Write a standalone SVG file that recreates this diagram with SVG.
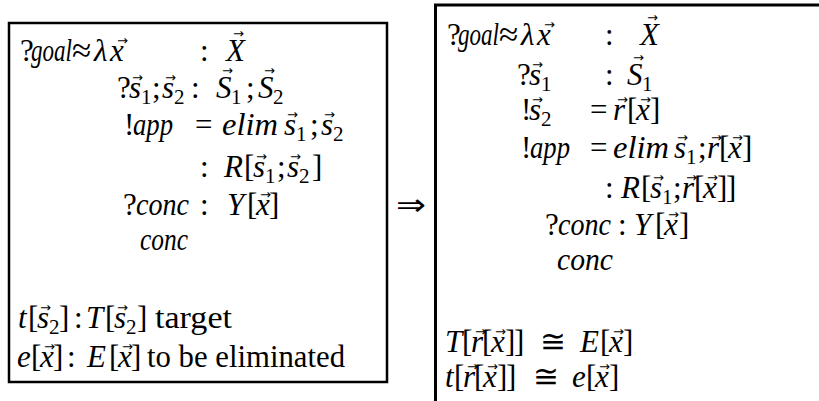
<svg xmlns="http://www.w3.org/2000/svg" width="819" height="401" viewBox="0 0 819 401">
<style>
text{font-family:"Liberation Serif","Times New Roman",serif;font-size:31px;fill:#000}
.i{font-style:italic}
.s{font-size:21px}
.q{font-size:35px}
.v{font-family:"DejaVu Sans",sans-serif;font-size:13px}
.box{fill:none;stroke:#000}
</style>
<rect width="819" height="401" fill="#fff"/>
<g id="left-box">
<rect class="box" x="9" y="23" width="378" height="359" stroke-width="2.5"/>
<text x="20" y="61">?</text><text class="i" x="31" y="61" textLength="41" lengthAdjust="spacingAndGlyphs">goal</text><text class="q" x="72" y="62">≈</text><text class="i" x="94" y="61">λ</text><text class="i" x="110" y="61">x</text><text class="v" x="117" y="45">→</text>
<text x="200" y="61">:</text><text class="i" x="226" y="61">X</text><text class="v" x="233" y="38">→</text>

<text x="117" y="98">?</text><text class="i" x="129" y="98">s</text><text class="v" x="132" y="82">→</text><text class="s" x="141" y="104">1</text><text x="152" y="98">;</text><text class="i" x="162" y="98">s</text><text class="v" x="165" y="82">→</text><text class="s" x="174" y="104">2</text>
<text x="191" y="98">:</text><text class="i" x="216" y="98">S</text><text class="v" x="222" y="75">→</text><text class="s" x="231" y="104">1</text><text x="246" y="98">;</text><text class="i" x="258" y="98">S</text><text class="v" x="264" y="75">→</text><text class="s" x="273" y="104">2</text>

<text x="124" y="135">!</text><text class="i" x="133" y="135" textLength="40" lengthAdjust="spacingAndGlyphs">app</text><text x="195" y="135">=</text><text class="i" x="222" y="135" textLength="56" lengthAdjust="spacingAndGlyphs">elim</text>
<text class="i" x="284" y="135">s</text><text class="v" x="287" y="119">→</text><text class="s" x="296" y="141">1</text><text x="310" y="135">;</text><text class="i" x="321" y="135">s</text><text class="v" x="324" y="119">→</text><text class="s" x="333" y="141">2</text>

<text x="200" y="177">:</text><text class="i" x="224" y="177">R</text><text x="244" y="177">[</text><text class="i" x="253" y="177">s</text><text class="v" x="256" y="161">→</text><text class="s" x="265" y="183">1</text><text x="277" y="177">;</text><text class="i" x="287" y="177">s</text><text class="v" x="290" y="161">→</text><text class="s" x="299" y="183">2</text><text x="312" y="177">]</text>

<text x="123" y="215">?</text><text class="i" x="136" y="215" textLength="53" lengthAdjust="spacingAndGlyphs">conc</text><text x="200" y="215">:</text><text class="i" x="227" y="215">Y</text><text x="247" y="215">[</text><text class="i" x="256" y="215">x</text><text class="v" x="260" y="199">→</text><text x="269" y="215">]</text>

<text class="i" x="140" y="250" textLength="48" lengthAdjust="spacingAndGlyphs">conc</text>

<text class="i" x="18" y="328">t</text><text x="28" y="328">[</text><text class="i" x="37" y="328">s</text><text class="v" x="40" y="312">→</text><text class="s" x="49" y="334">2</text><text x="59" y="328">]</text><text x="74" y="328">:</text><text class="i" x="86" y="328">T</text><text x="105" y="328">[</text><text class="i" x="114" y="328">s</text><text class="v" x="117" y="312">→</text><text class="s" x="126" y="334">2</text><text x="137" y="328">]</text><text x="155" y="328" textLength="77" lengthAdjust="spacingAndGlyphs">target</text>

<text class="i" x="17" y="367">e</text><text x="31" y="367">[</text><text class="i" x="40" y="367">x</text><text class="v" x="44" y="351">→</text><text x="53" y="367">]</text><text x="67" y="367">:</text><text class="i" x="87" y="367">E</text><text x="109" y="367">[</text><text class="i" x="118" y="367">x</text><text class="v" x="122" y="351">→</text><text x="131" y="367">]</text><text x="147" y="367" textLength="198" lengthAdjust="spacingAndGlyphs">to be eliminated</text>
</g>
<g id="connectors">
<text x="396" y="215" style="font-family:'DejaVu Sans',sans-serif;font-size:30px" textLength="30" lengthAdjust="spacingAndGlyphs">⇒</text>
</g>
<g id="right-box">
<path class="box" d="M435.5 401V5H819" stroke-width="3"/>
<text x="447" y="45">?</text><text class="i" x="458" y="45" textLength="41" lengthAdjust="spacingAndGlyphs">goal</text><text class="q" x="499" y="46">≈</text><text class="i" x="521" y="45">λ</text><text class="i" x="537" y="45">x</text><text class="v" x="544" y="29">→</text>
<text x="605" y="45">:</text><text class="i" x="640" y="45">X</text><text class="v" x="647" y="22">→</text>

<text x="517" y="85">?</text><text class="i" x="529" y="85">s</text><text class="v" x="532" y="69">→</text><text class="s" x="541" y="91">1</text><text x="605" y="85">:</text><text class="i" x="627" y="85">S</text><text class="v" x="633" y="62">→</text><text class="s" x="642" y="91">1</text>

<text x="521" y="120">!</text><text class="i" x="529" y="120">s</text><text class="v" x="532" y="104">→</text><text class="s" x="541" y="126">2</text><text x="590" y="120">=</text><text class="i" x="613" y="120">r</text><text class="v" x="617" y="104">→</text><text x="627" y="120">[</text><text class="i" x="636" y="120">x</text><text class="v" x="640" y="104">→</text><text x="650" y="120">]</text>

<text x="521" y="158">!</text><text class="i" x="530" y="158" textLength="40" lengthAdjust="spacingAndGlyphs">app</text><text x="590" y="158">=</text><text class="i" x="613" y="158" textLength="56" lengthAdjust="spacingAndGlyphs">elim</text><text class="i" x="674" y="158">s</text><text class="v" x="677" y="142">→</text><text class="s" x="686" y="164">1</text><text x="698" y="158">;</text><text class="i" x="707" y="158">r</text><text class="v" x="711" y="142">→</text><text x="719" y="158">[</text><text class="i" x="728" y="158">x</text><text class="v" x="732" y="142">→</text><text x="742" y="158">]</text>

<text x="605" y="198">:</text><text class="i" x="621" y="198">R</text><text x="641" y="198">[</text><text class="i" x="650" y="198">s</text><text class="v" x="653" y="182">→</text><text class="s" x="662" y="204">1</text><text x="673" y="198">;</text><text class="i" x="682" y="198">r</text><text class="v" x="686" y="182">→</text><text x="694" y="198">[</text><text class="i" x="703" y="198">x</text><text class="v" x="707" y="182">→</text><text x="717" y="198">]</text><text x="726" y="198">]</text>

<text x="545" y="235">?</text><text class="i" x="558" y="235" textLength="53" lengthAdjust="spacingAndGlyphs">conc</text><text x="618" y="235">:</text><text class="i" x="634" y="235">Y</text><text x="655" y="235">[</text><text class="i" x="664" y="235">x</text><text class="v" x="668" y="219">→</text><text x="679" y="235">]</text>

<text class="i" x="557" y="270" textLength="56" lengthAdjust="spacingAndGlyphs">conc</text>

<text class="i" x="445" y="352">T</text><text x="462" y="352">[</text><text class="i" x="471" y="352">r</text><text class="v" x="475" y="336">→</text><text x="482" y="352">[</text><text class="i" x="491" y="352">x</text><text class="v" x="495" y="336">→</text><text x="505" y="352">]</text><text x="514" y="352">]</text><text x="540" y="352">≅</text><text class="i" x="580" y="352">E</text><text x="600" y="352">[</text><text class="i" x="609" y="352">x</text><text class="v" x="613" y="336">→</text><text x="623" y="352">]</text>

<text class="i" x="445" y="387">t</text><text x="454" y="387">[</text><text class="i" x="463" y="387">r</text><text class="v" x="467" y="371">→</text><text x="474" y="387">[</text><text class="i" x="483" y="387">x</text><text class="v" x="487" y="371">→</text><text x="497" y="387">]</text><text x="506" y="387">]</text><text x="533" y="387">≅</text><text class="i" x="572" y="387">e</text><text x="586" y="387">[</text><text class="i" x="595" y="387">x</text><text class="v" x="599" y="371">→</text><text x="609" y="387">]</text>
</g>
</svg>
